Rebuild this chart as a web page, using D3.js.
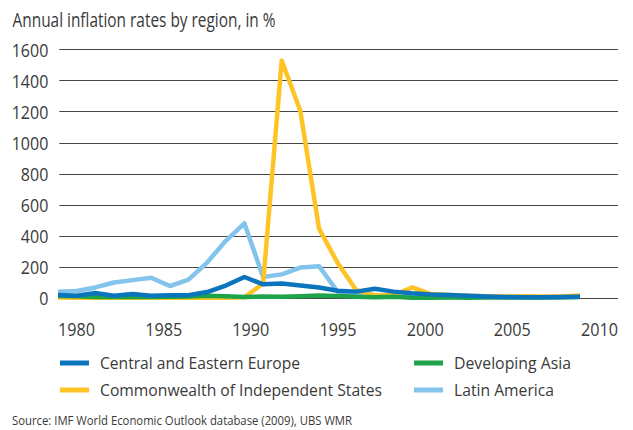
<!DOCTYPE html>
<html>
<head>
<meta charset="utf-8">
<script src="https://cdn.jsdelivr.net/npm/d3@7"></script>
<style>
  html, body { margin: 0; padding: 0; background: #fff; }
  svg text { font-family: "Open Sans", "Noto Sans", sans-serif; fill: #3a3a3a; }
</style>
</head>
<body>
<svg id="chart" width="633" height="430"></svg>
<script>
// ---- Data ----
const years = d3.range(1980, 2009);
const seriesNames = ["Central and Eastern Europe", "Developing Asia", "Commonwealth of Independent States", "Latin America"];
const cee   = [20,15,32,15,25,15,18,18,38,80,135,88,94,81,68,47,41,60,41,30,23,19,15,10,7,5,5,6,8];
const asia  = [13,11,7,7,7,7,8,9,14,12,7,9,8,11,16,13,8,5,8,2,2,3,2,3,4,4,4,5,7];
const cis   = [3,2,2,2,2,2,2,2,2,2,5,93,1528,1203,446,225,50,17,18,68,25,20,14,12,10,12,9,10,16];
const latam = [40,45,68,100,115,130,77,118,228,368,480,135,152,196,205,40,22,13,10,9,8,6,9,10,7,6,5,5,8];
const yTicks = [0,200,400,600,800,1000,1200,1400,1600];
const xTickLabels = [1980,1985,1990,1995,2000,2005,2010];
const colors = {
  "Central and Eastern Europe": "#0a74bd",
  "Developing Asia": "#1fa34a",
  "Commonwealth of Independent States": "#fec325",
  "Latin America": "#82c4ec"
};

const svg = d3.select("#chart");

// fit text to a target width (condensed look of original font)
function fit(sel, w) {
  sel.each(function() {
    if (w) d3.select(this).attr("textLength", w).attr("lengthAdjust", "spacingAndGlyphs");
  });
}

// ---- Scales ----
const y = d3.scaleLinear().domain([0, 1600]).range([298, 49.3]);
const xData = d3.scalePoint().domain(years).range([58, 580]);
const xAxisScale = d3.scaleLinear().domain([1980, 2010]).range([76, 599]);

// ---- Title ----
svg.append("text").attr("x", 12.5).attr("y", 26.7).attr("font-size", 20)
  .text("Annual inflation rates by region, in %").call(fit, 263);

// ---- Gridlines ----
svg.append("g").selectAll("line").data(yTicks).join("line")
  .attr("x1", 59.3).attr("x2", 618)
  .attr("y1", d => Math.round(y(d)) + 0.5).attr("y2", d => Math.round(y(d)) + 0.5)
  .attr("stroke", "#474747").attr("stroke-width", 1.2);

// ---- Y axis labels ----
const yAxis = d3.axisLeft(y).tickValues(yTicks).tickSize(0).tickPadding(0).tickFormat(d3.format("d"));
const gy = svg.append("g").attr("transform", "translate(48.3,0)").call(yAxis);
gy.select(".domain").remove();
gy.selectAll("text").attr("font-size", 18.6).attr("fill", "#3a3a3a").attr("dy", "0.36em")
  .style("font-family", "'Open Sans', sans-serif")
  .each(function(d) { const s = String(d).length; d3.select(this).attr("textLength", s * 9.15).attr("lengthAdjust", "spacingAndGlyphs"); });

// ---- X axis labels ----
const xAxis = d3.axisBottom(xAxisScale).tickValues(xTickLabels).tickSize(0).tickPadding(0).tickFormat(d3.format("d"));
const gx = svg.append("g").attr("transform", "translate(0,0)").call(xAxis);
gx.select(".domain").remove();
gx.selectAll("text").attr("font-size", 18.6).attr("fill", "#3a3a3a").attr("y", 335.7).attr("dy", 0)
  .style("font-family", "'Open Sans', sans-serif")
  .attr("textLength", 37).attr("lengthAdjust", "spacingAndGlyphs");

// ---- Lines ----
const lineGen = d3.line().x((d, i) => xData(years[i])).y(d => y(d));
const drawOrder = [
  ["Latin America", latam],
  ["Commonwealth of Independent States", cis],
  ["Developing Asia", asia],
  ["Central and Eastern Europe", cee]
];
svg.append("g").selectAll("path").data(drawOrder).join("path")
  .attr("d", d => lineGen(d[1]))
  .attr("fill", "none")
  .attr("stroke", d => colors[d[0]])
  .attr("stroke-width", 4.5)
  .attr("stroke-linejoin", "round");

// ---- Legend ----
const legendItems = [
  {name: "Central and Eastern Europe", x: 60, y: 363, w: 200},
  {name: "Developing Asia", x: 414, y: 363, w: 117},
  {name: "Commonwealth of Independent States", x: 60, y: 390, w: 282},
  {name: "Latin America", x: 414, y: 390, w: 100}
];
const lg = svg.append("g").selectAll("g").data(legendItems).join("g")
  .attr("transform", d => `translate(${d.x},${d.y})`);
lg.append("line").attr("x1", 0).attr("x2", 29).attr("y1", 0).attr("y2", 0)
  .attr("stroke", d => colors[d.name]).attr("stroke-width", 5);
lg.append("text").attr("x", 40).attr("y", 6).attr("font-size", 17)
  .text(d => d.name)
  .each(function(d) { d3.select(this).attr("textLength", d.w).attr("lengthAdjust", "spacingAndGlyphs"); });

// ---- Source ----
svg.append("text").attr("x", 12).attr("y", 424.5).attr("font-size", 13.5)
  .text("Source: IMF World Economic Outlook database (2009), UBS WMR").call(fit, 340);
</script>
</body>
</html>
